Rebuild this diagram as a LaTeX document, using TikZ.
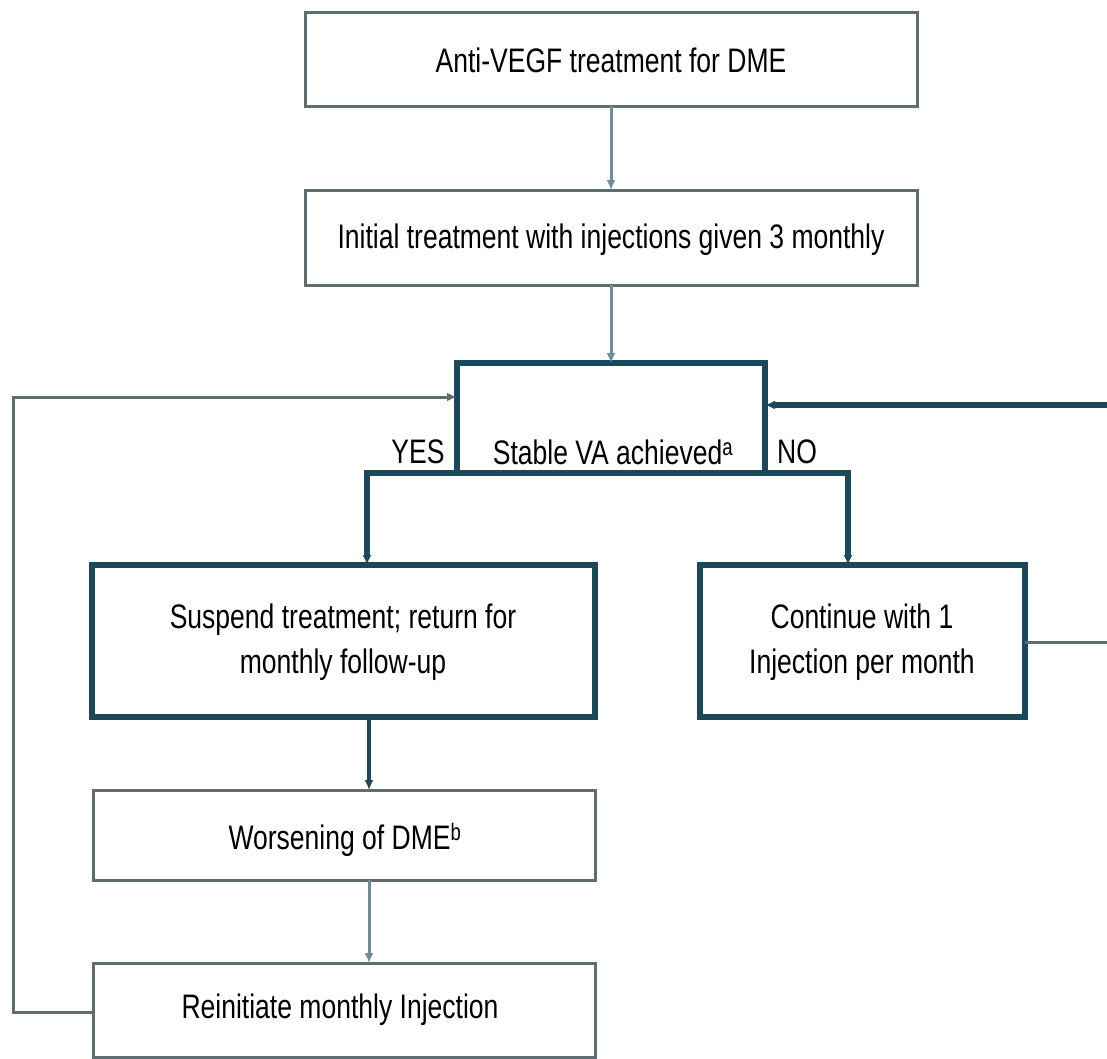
\documentclass[tikz,border=0pt]{standalone}
\usepackage{fontspec}
\setmainfont{Liberation Sans}[FakeStretch=0.78]
\usetikzlibrary{arrows.meta,calc}
\definecolor{thingray}{HTML}{5F6C70}
\definecolor{darkteal}{HTML}{1C485C}
\definecolor{arrline}{HTML}{6E8C9A}
\tikzset{
  txt/.style={font=\fontsize{34}{45}\selectfont, text=black, align=center, inner sep=0pt},
  thinbox/.style={draw=thingray, line width=3pt, fill=white, rectangle, inner sep=0pt, outer sep=0pt},
  thickbox/.style={draw=darkteal, line width=6pt, fill=white, rectangle, inner sep=0pt, outer sep=0pt},
  tip/.style={-{Latex[length=10pt,width=9pt]}},
  thinline/.style={draw=thingray, line width=3pt},
  lightline/.style={draw=arrline, line width=3pt},
  thickline/.style={draw=darkteal, line width=6pt},
  midline/.style={draw=darkteal, line width=4pt}
}
\begin{document}
\begin{tikzpicture}[x=1pt,y=-1pt]
\useasboundingbox[fill=white] (0,0) rectangle (1107,1058);
% boxes
\node[thinbox, minimum width=612pt, minimum height=94pt] (anti) at (611,59) {};
\node[txt] (antit) at (611,60) {Anti-VEGF treatment for DME};
\node[thinbox, minimum width=612pt, minimum height=95pt] (init) at (611,237.5) {};
\node[txt] (initt) at (611,240) {Initial treatment with injections given 3 monthly};
\node[thickbox, minimum width=308pt, minimum height=110pt] (stab) at (611,418) {};
\node[txt] (stabt) at (613,452) {Stable VA achieved\textsuperscript{a}};
\node[txt] (yes) at (418,452) {YES};
\node[txt] (no) at (797,452) {NO};
\node[thickbox, minimum width=503pt, minimum height=152pt] (susp) at (343.5,641) {};
\node[txt] (suspt) at (343,642) {Suspend treatment; return for\\monthly follow-up};
\node[thickbox, minimum width=325pt, minimum height=152pt] (cont) at (862.5,641) {};
\node[txt] (contt) at (862,642) {Continue with 1\\Injection per month};
\node[thinbox, minimum width=502pt, minimum height=90pt] (wors) at (344,835) {};
\node[txt] (worst) at (345,840) {Worsening of DME\textsuperscript{b}};
\node[thinbox, minimum width=502pt, minimum height=94pt] (rein) at (344,1010) {};
\node[txt] (reint) at (340,1010) {Reinitiate monthly Injection};
% vertical connectors
\draw[lightline, tip] (anti.south) -- (init.north);
\draw[lightline, tip] (init.south) -- (stab.north);
% YES / NO branches
\coordinate (yl) at (367,473);
\coordinate (nr) at (848,473);
\draw[thickline, tip] (stab.south) -| (yl |- susp.north);
\draw[thickline, tip] (stab.south) -| (nr |- cont.north);
% suspend -> worsening -> reinitiate
\coordinate (sw) at (369,717);
\draw[midline, tip] (sw |- susp.south) -- (sw |- wors.north);
\draw[lightline, tip] (sw |- wors.south) -- (sw |- rein.north);
% left loop
\coordinate (lb) at (13,1012);
\coordinate (lt) at (13,397);
\draw[thinline, tip] (rein.west |- lb) -- (lb) -- (lt) -- (stab.west |- lt);
% right loop
\coordinate (rb) at (1125,642);
\coordinate (rt) at (1125,405);
\draw[thinline] (cont.east |- rb) -- (rb);
\draw[thickline, tip] (rb) -- (rt) -- (stab.east |- rt);
\end{tikzpicture}
\end{document}
